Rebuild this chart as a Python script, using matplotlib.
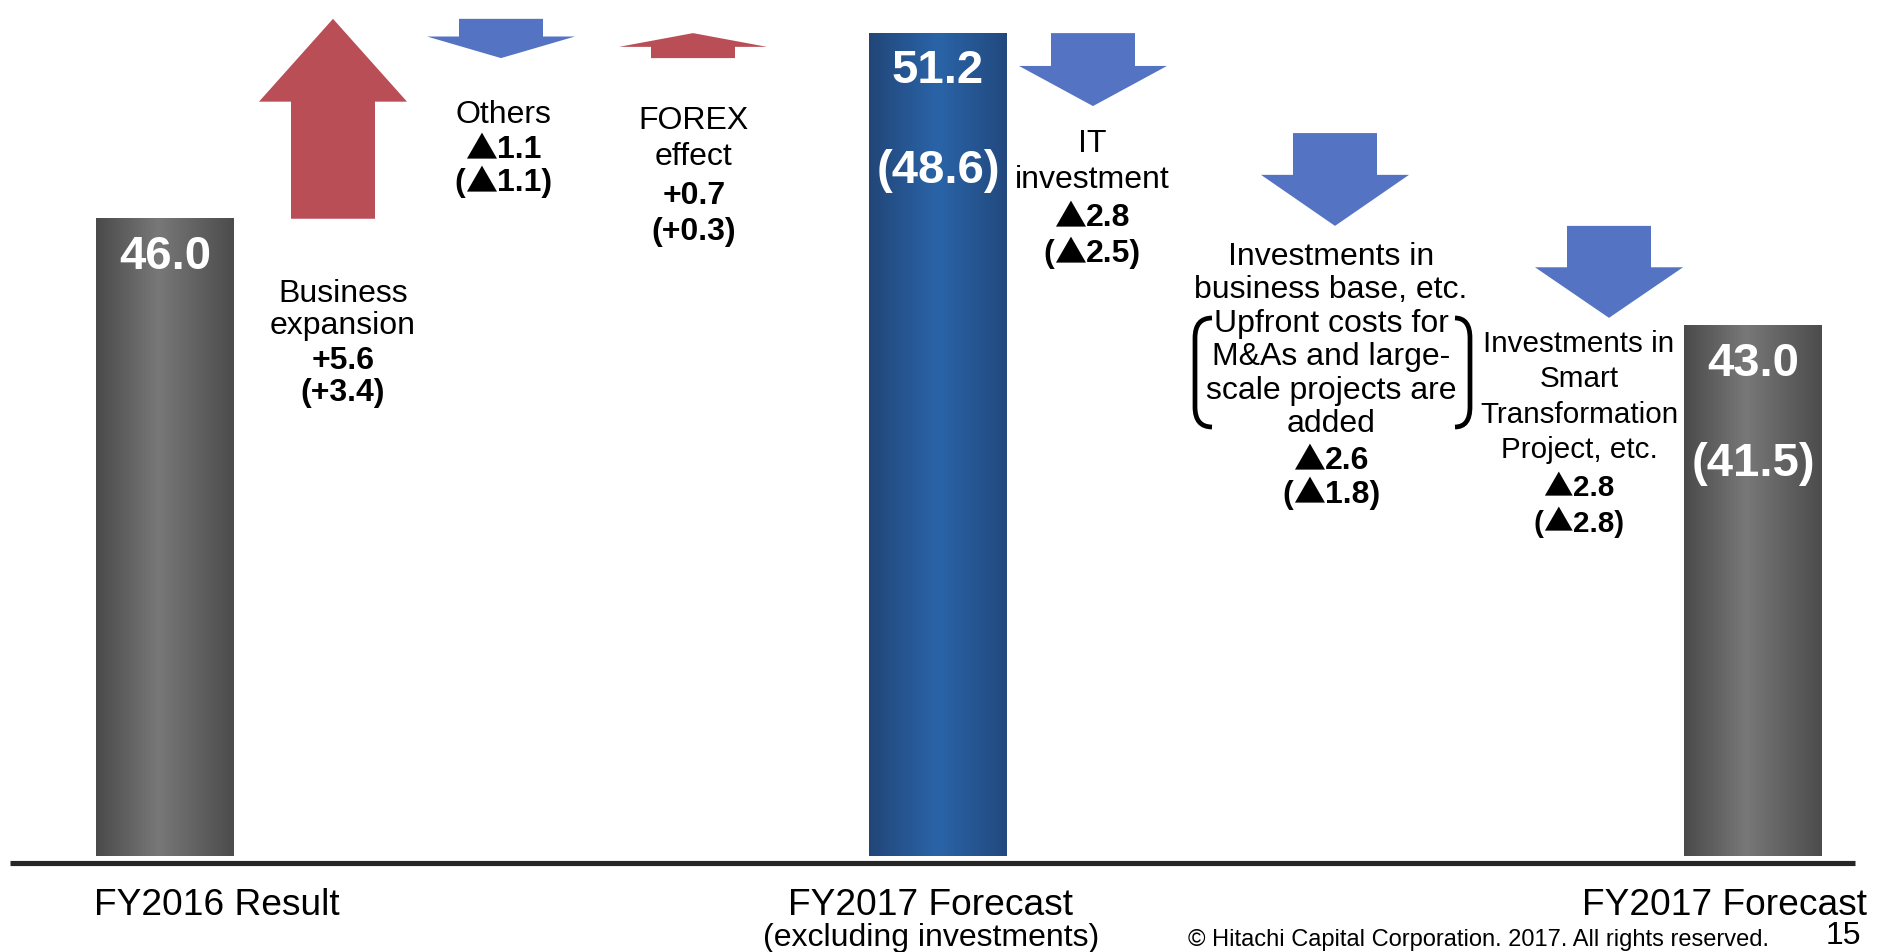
import numpy as np
import matplotlib
matplotlib.use('Agg')
import matplotlib.pyplot as plt
from matplotlib.colors import LinearSegmentedColormap
from matplotlib.path import Path
from matplotlib.patches import PathPatch

TEXT_FONT = 'Liberation Sans'
TRI_FONT = 'Noto Sans CJK JP'
plt.rcParams['font.family'] = [TEXT_FONT, 'DejaVu Sans']

# totals (bars)
bar_names = ['FY2016 Result', 'FY2017 Forecast', 'FY2017 Forecast']
bar_subs = ['', '(excluding investments)', '']
bar_values = [46.0, 51.2, 43.0]
bar_alt = [None, 48.6, 41.5]

# changes between the totals (arrows)
step_labels = [
    ['Business', 'expansion'],
    ['Others'],
    ['FOREX', 'effect'],
    ['IT', 'investment'],
    ['Investments in', 'business base, etc.', 'Upfront costs for',
     'M&As and large-', 'scale projects are', 'added'],
    ['Investments in', 'Smart', 'Transformation', 'Project, etc.'],
]
step_values = [5.6, -1.1, 0.7, -2.8, -2.6, -2.8]
step_alt = [3.4, -1.1, 0.3, -2.5, -1.8, -2.8]

# layout (pixels of the 1883x952 slide)
W, H = 1883, 952
BASE = 28.15         # value at the foot of the bars
PX_PER_UNIT = 35.7
FOOT = 856           # pixel row of the foot of the bars
bar_x = [165, 938, 1753]
bar_w = 138
name_x = [217, 931, 1725]
arrow_x = [333, 501, 693, 1093, 1335, 1609]
arrow_trim = [0, 0, 0, 27, 0, 8]   # px cut from the tip, to keep labels clear
body_w, head_w = 84, 148
label_pos = [(343, 294, 32), (503, 115, 32.5), (694, 121, 36),
             (1092, 144, 35.7), (1331, 257, 33.5), (1579, 344, 35.3)]
label_size = [23, 23, 23, 23, 23, 21.3]

RED = '#b94e57'
BLUE = '#5473c3'
gray_cm = LinearSegmentedColormap.from_list(
    'g', [(0, '#4a4a4a'), (0.45, '#787878'), (1, '#4c4c4c')])
blue_cm = LinearSegmentedColormap.from_list(
    'b', [(0, '#224679'), (0.5, '#2a64a8'), (1, '#22497e')])
bar_cmaps = [gray_cm, blue_cm, gray_cm]


def delta_text(v):
    if v < 0:
        return '▲%.1f' % abs(v)
    return '+%.1f' % v


def split_tri(s):
    # the triangle comes from a CJK font, the rest from the text font
    parts = []
    for ch in s:
        fam = TRI_FONT if ch == '▲' else TEXT_FONT
        if parts and parts[-1][1] == fam:
            parts[-1][0] += ch
        else:
            parts.append([ch, fam])
    return parts


fig = plt.figure(figsize=(W / 100, H / 100), dpi=100)
renderer = fig.canvas.get_renderer()
ax = fig.add_axes([0, 0, 1, 1])
ax.axis('off')
lay = fig.add_axes([0, 0, 1, 1])
lay.axis('off')
lay.set_xlim(0, W)
lay.set_ylim(H, 0)


def centered_parts(x, y, s, **kw):
    texts, widths = [], []
    for chunk, fam in split_tri(s):
        t = lay.text(0, y, chunk, family=fam, ha='left', va='baseline', **kw)
        texts.append(t)
        widths.append(t.get_window_extent(renderer).width)
    left = x - sum(widths) / 2
    for t, w in zip(texts, widths):
        t.set_x(left)
        left += w


# bars with a soft horizontal gradient
grad = np.linspace(0, 1, 256).reshape(1, -1)
for i, v in enumerate(bar_values):
    x0 = bar_x[i] - bar_w / 2
    ax.imshow(grad, extent=[x0, x0 + bar_w, BASE, v], aspect='auto',
              cmap=bar_cmaps[i], interpolation='bilinear', zorder=2)
    ax.annotate('%.1f' % v, (bar_x[i], v), xytext=(0, -38 * 0.72),
                textcoords='offset points', ha='center', va='center',
                color='white', fontsize=34, fontweight='bold', zorder=5)
    if bar_alt[i] is not None:
        ax.annotate('(%.1f)' % bar_alt[i], (bar_x[i], v),
                    xytext=(0, -138 * 0.72), textcoords='offset points',
                    ha='center', va='center', color='white', fontsize=34,
                    fontweight='bold', zorder=5)

# waterfall arrows
level = bar_values[0]
for i, d in enumerate(step_values):
    v0, v1 = level, level + d
    level = v1
    sgn = 1 if d > 0 else -1
    v1 = v1 - sgn * arrow_trim[i] / PX_PER_UNIT
    head = min(0.55 * abs(v1 - v0), 2.32)
    neck = v1 - sgn * head
    x = arrow_x[i]
    xs = [x - body_w / 2, x - body_w / 2, x - head_w / 2, x,
          x + head_w / 2, x + body_w / 2, x + body_w / 2]
    ys = [v0, neck, neck, v1, neck, neck, v0]
    ax.fill(xs, ys, color=RED if d > 0 else BLUE, lw=0, zorder=3)

ax.set_xlim(0, W)
ax.set_ylim(BASE - (H - FOOT) / PX_PER_UNIT, BASE + FOOT / PX_PER_UNIT)

# step labels
for i, lines in enumerate(step_labels):
    lx, ly, dy = label_pos[i]
    fs = label_size[i]
    k = 0
    for line in lines:
        lay.text(lx, ly + k * dy, line, ha='center', va='center', fontsize=fs)
        k += 1
    centered_parts(lx, ly + k * dy + 11, delta_text(step_values[i]),
                   fontsize=fs, fontweight='bold')
    centered_parts(lx, ly + (k + 1) * dy + 11, '(%s)' % delta_text(step_alt[i]),
                   fontsize=fs, fontweight='bold')

# brackets around the note on M&As
for xa, xb in [(1212, 1195), (1455, 1470)]:
    p = Path([(xa, 318), (xb, 318), (xb, 338), (xb, 407), (xb, 427), (xa, 427)],
             [Path.MOVETO, Path.CURVE3, Path.CURVE3, Path.LINETO,
              Path.CURVE3, Path.CURVE3])
    lay.add_patch(PathPatch(p, fill=False, lw=3.4, color='black'))

# axis line and category names
lay.plot([10, 1855], [862.5, 862.5], color='#262626', lw=3.7,
         solid_capstyle='butt')
for i, name in enumerate(bar_names):
    lay.text(name_x[i], 915, name, ha='center', va='baseline', fontsize=26.7)
    if bar_subs[i]:
        lay.text(name_x[i], 938, bar_subs[i], ha='center', va='center',
                 fontsize=23)

lay.text(1479, 946, '© Hitachi Capital Corporation. 2017. All rights reserved.',
         ha='center', va='baseline', fontsize=17)
lay.text(1843, 944, '15', ha='center', va='baseline', fontsize=23)

fig.savefig('out.png', dpi=100)
